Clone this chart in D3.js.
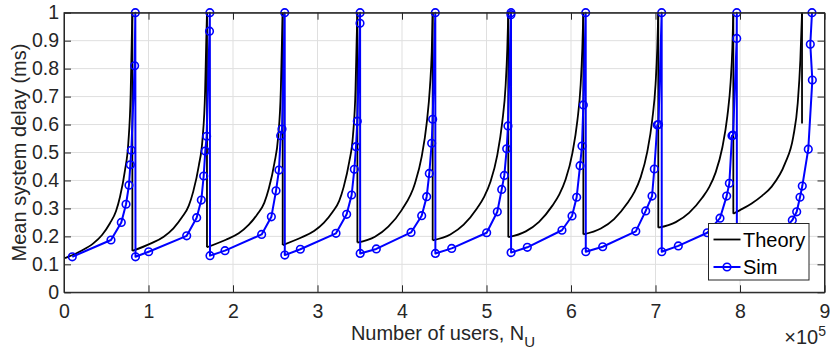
<!DOCTYPE html>
<html>
<head>
<meta charset="utf-8">
<title>Mean system delay vs number of users</title>
<script src="https://d3js.org/d3.v7.min.js"></script>
<style>
  body { margin: 0; background: #fff; }
  text { font-family: "Liberation Sans", Arial, Helvetica, sans-serif; fill: #262626; }
</style>
</head>
<body>
<div id="chart"></div>
<script>
// ---- data (x in units of 1e5 users, delay in ms) ----
// theory: one sub-array per cycle, each rising to 1 ms
var theoryX = [
  [0.012, 0.2, 0.347, 0.45, 0.544, 0.615, 0.663, 0.722, 0.761, 0.789, 0.801, 0.809],
  [0.809, 1.030, 1.180, 1.295, 1.398, 1.477, 1.530, 1.596, 1.639, 1.670, 1.683, 1.692],
  [1.692, 1.916, 2.068, 2.185, 2.290, 2.370, 2.424, 2.490, 2.534, 2.566, 2.579, 2.588],
  [2.588, 2.809, 2.959, 3.074, 3.178, 3.257, 3.310, 3.376, 3.419, 3.450, 3.463, 3.472],
  [3.472, 3.68, 3.838, 3.996, 4.154, 4.233, 4.292, 4.331, 4.352, 4.363],
  [4.363, 4.572, 4.730, 4.889, 4.972, 5.048, 5.127, 5.186, 5.226, 5.246, 5.258],
  [5.258, 5.465, 5.622, 5.780, 5.862, 5.937, 6.016, 6.075, 6.114, 6.134, 6.146],
  [6.146, 6.353, 6.510, 6.668, 6.749, 6.825, 6.903, 6.962, 7.001, 7.021, 7.033],
  [7.033, 7.240, 7.397, 7.555, 7.637, 7.712, 7.791, 7.850, 7.889, 7.910, 7.921],
  [7.921, 8.0, 8.138, 8.26, 8.375, 8.533, 8.63, 8.683, 8.714, 8.734]
];
var theoryY = [
  [0.122, 0.148, 0.175, 0.205, 0.247, 0.29, 0.342, 0.437, 0.533, 0.711, 0.89, 1],
  [0.148, 0.175, 0.199, 0.229, 0.269, 0.310, 0.361, 0.454, 0.547, 0.720, 0.893, 1],
  [0.161, 0.188, 0.211, 0.241, 0.280, 0.320, 0.371, 0.462, 0.554, 0.724, 0.895, 1],
  [0.169, 0.196, 0.219, 0.248, 0.287, 0.327, 0.377, 0.467, 0.558, 0.727, 0.896, 1],
  [0.178, 0.199, 0.235, 0.294, 0.39, 0.485, 0.604, 0.735, 0.86, 1],
  [0.186, 0.207, 0.242, 0.301, 0.341, 0.396, 0.490, 0.608, 0.738, 0.870, 1],
  [0.197, 0.218, 0.252, 0.310, 0.350, 0.404, 0.497, 0.613, 0.741, 0.872, 1],
  [0.207, 0.228, 0.262, 0.319, 0.358, 0.412, 0.503, 0.618, 0.745, 0.873, 1],
  [0.231, 0.251, 0.284, 0.339, 0.377, 0.429, 0.518, 0.629, 0.752, 0.877, 1],
  [0.281, 0.294, 0.318, 0.345, 0.378, 0.461, 0.556, 0.676, 0.83, 1]
];
var theoryTail = 0.604; // last drop of the theory curve

var simX = [
  0.098, 0.556, 0.678, 0.734, 0.769, 0.785, 0.797, 0.836, 0.844,
  0.846, 1.002, 1.452, 1.570, 1.625, 1.653, 1.672, 1.688, 1.722, 1.726,
  1.728, 1.905, 2.339, 2.454, 2.509, 2.544, 2.564, 2.580, 2.612,
  2.613, 2.797, 3.219, 3.345, 3.404, 3.436, 3.456, 3.471, 3.503, 3.504,
  3.505, 3.696, 4.107, 4.233, 4.292, 4.323, 4.351, 4.363, 4.394,
  4.395, 4.588, 5.002, 5.128, 5.180, 5.211, 5.239, 5.254, 5.289, 5.290,
  5.291, 5.483, 5.893, 6.012, 6.067, 6.107, 6.130, 6.146, 6.174,
  6.175, 6.375, 6.767, 6.884, 6.959, 6.986, 7.021, 7.035, 7.073,
  7.074, 7.270, 7.613, 7.763, 7.842, 7.874, 7.905, 7.918, 7.961, 7.962,
  7.963, 8.16, 8.50, 8.619, 8.671, 8.710, 8.737, 8.808, 8.856, 8.832, 8.852
];
var simY = [
  0.127, 0.187, 0.250, 0.315, 0.383, 0.456, 0.508, 0.810, 1.0,
  0.127, 0.145, 0.202, 0.267, 0.330, 0.416, 0.505, 0.558, 0.934, 1.0,
  0.131, 0.149, 0.207, 0.270, 0.363, 0.437, 0.560, 0.584, 1.0,
  0.133, 0.154, 0.211, 0.279, 0.348, 0.440, 0.521, 0.612, 0.962, 1.0,
  0.139, 0.155, 0.214, 0.274, 0.342, 0.425, 0.533, 0.619, 1.0,
  0.139, 0.157, 0.213, 0.288, 0.368, 0.418, 0.513, 0.595, 0.993, 1.0,
  0.142, 0.161, 0.222, 0.273, 0.340, 0.453, 0.523, 0.670, 1.0,
  0.145, 0.163, 0.218, 0.291, 0.344, 0.441, 0.598, 0.600, 1.0,
  0.145, 0.166, 0.213, 0.265, 0.344, 0.390, 0.560, 0.562, 0.908, 1.0,
  0.147, 0.168, 0.215, 0.258, 0.288, 0.340, 0.380, 0.512, 0.759, 0.887, 1.0
];

var xTicks = [0, 1, 2, 3, 4, 5, 6, 7, 8, 9];
var yTicks = [0, 0.1, 0.2, 0.3, 0.4, 0.5, 0.6, 0.7, 0.8, 0.9, 1];
var legendNames = ["Theory", "Sim"];

// ---- layout ----
var W = 830, H = 361;
var margin = {top: 12.7, right: 5.5, bottom: 68.7, left: 64};
var width = W - margin.left - margin.right,
    height = H - margin.top - margin.bottom;

var svg = d3.select("#chart").append("svg")
  .attr("width", W).attr("height", H);
var g = svg.append("g")
  .attr("transform", "translate(" + margin.left + "," + margin.top + ")");

var x = d3.scaleLinear().domain([0, 9]).range([0, width]);
var y = d3.scaleLinear().domain([0, 1]).range([height, 0]);

// grid
g.append("g").selectAll("line").data(xTicks).enter().append("line")
  .attr("x1", d => x(d)).attr("x2", d => x(d))
  .attr("y1", 0).attr("y2", height)
  .attr("stroke", "#dfdfdf").attr("stroke-width", 1);
g.append("g").selectAll("line").data(yTicks).enter().append("line")
  .attr("x1", 0).attr("x2", width)
  .attr("y1", d => y(d)).attr("y2", d => y(d))
  .attr("stroke", "#dfdfdf").attr("stroke-width", 1);

// theory
var theoryLine = d3.line()
  .x(d => x(d[0])).y(d => y(d[1]))
  .curve(d3.curveMonotoneX);
var straight = d3.line().x(d => x(d[0])).y(d => y(d[1]));

theoryX.forEach(function(xs, i) {
  var pts = xs.map((v, j) => [v, theoryY[i][j]]);
  g.append("path")
    .attr("d", theoryLine(pts))
    .attr("fill", "none").attr("stroke", "#000").attr("stroke-width", 1.8);
  var last = pts[pts.length - 1];
  var next = i < theoryX.length - 1 ? [theoryX[i + 1][0], theoryY[i + 1][0]] : [last[0], theoryTail];
  g.append("path")
    .attr("d", straight([last, next]))
    .attr("fill", "none").attr("stroke", "#000").attr("stroke-width", 1.8);
});

// sim
var sim = simX.map((v, i) => [v, simY[i]]);
g.append("path")
  .datum(sim)
  .attr("d", straight)
  .attr("fill", "none").attr("stroke", "#0000ff").attr("stroke-width", 2)
  .attr("stroke-linejoin", "round");
g.append("g").selectAll("circle").data(sim).enter().append("circle")
  .attr("cx", d => x(d[0])).attr("cy", d => y(d[1])).attr("r", 3.8)
  .attr("fill", "none").attr("stroke", "#0000ff").attr("stroke-width", 1.6);

// axes box and ticks
var axisColor = "#262626";
g.append("rect").attr("x", 0).attr("y", 0).attr("width", width).attr("height", height)
  .attr("fill", "none").attr("stroke", axisColor).attr("stroke-width", 1);

var xAxis = g.append("g").attr("transform", "translate(0," + height + ")")
  .call(d3.axisBottom(x).tickValues(xTicks).tickSizeInner(-7).tickSizeOuter(0).tickPadding(12)
    .tickFormat(d3.format("d")));
var xAxisTop = g.append("g")
  .call(d3.axisTop(x).tickValues(xTicks).tickSizeInner(-7).tickSizeOuter(0).tickFormat(""));
var yAxis = g.append("g")
  .call(d3.axisLeft(y).tickValues(yTicks).tickSizeInner(-7).tickSizeOuter(0).tickPadding(5)
    .tickFormat(d => d3.format("")(+d.toFixed(1))));
var yAxisRight = g.append("g").attr("transform", "translate(" + width + ",0)")
  .call(d3.axisRight(y).tickValues(yTicks).tickSizeInner(-7).tickSizeOuter(0).tickFormat(""));

[xAxis, xAxisTop, yAxis, yAxisRight].forEach(function(a) {
  a.select(".domain").attr("stroke", axisColor);
  a.selectAll(".tick line").attr("stroke", axisColor);
  a.selectAll(".tick text").attr("fill", axisColor)
    .style("font-family", "'Liberation Sans', Arial, sans-serif").style("font-size", "19.5px");
});

// axis labels
var xl = svg.append("text")
  .attr("x", 443).attr("y", 340).attr("text-anchor", "middle")
  .style("font-size", "20px");
xl.append("tspan").text("Number of users, N");
xl.append("tspan").attr("dy", 7).style("font-size", "15px").text("U");

svg.append("text")
  .attr("transform", "translate(26," + (margin.top + height / 2) + ") rotate(-90)")
  .attr("text-anchor", "middle")
  .style("font-size", "20px")
  .text("Mean system delay (ms)");

var mult = svg.append("text")
  .attr("x", 826).attr("y", 344).attr("text-anchor", "end")
  .style("font-size", "20px");
mult.append("tspan").text("\u00d710");
mult.append("tspan").attr("dy", -8).style("font-size", "14px").text("5");

// legend
var lg = svg.append("g").attr("transform", "translate(708.5,223.5)");
lg.append("rect").attr("width", 100.5).attr("height", 56.5)
  .attr("fill", "#fff").attr("stroke", axisColor).attr("stroke-width", 1);
legendNames.forEach(function(name, i) {
  var cy = 16 + i * 27.5;
  lg.append("line").attr("x1", 5).attr("x2", 32).attr("y1", cy).attr("y2", cy)
    .attr("stroke", i === 0 ? "#000" : "#0000ff").attr("stroke-width", i === 0 ? 1.8 : 2);
  if (i === 1) {
    lg.append("circle").attr("cx", 18.5).attr("cy", cy).attr("r", 3.8)
      .attr("fill", "none").attr("stroke", "#0000ff").attr("stroke-width", 1.6);
  }
  lg.append("text").attr("x", 34.5).attr("y", cy + 7).style("font-size", "20px")
    .style("fill", "#000").text(name);
});
</script>
</body>
</html>
